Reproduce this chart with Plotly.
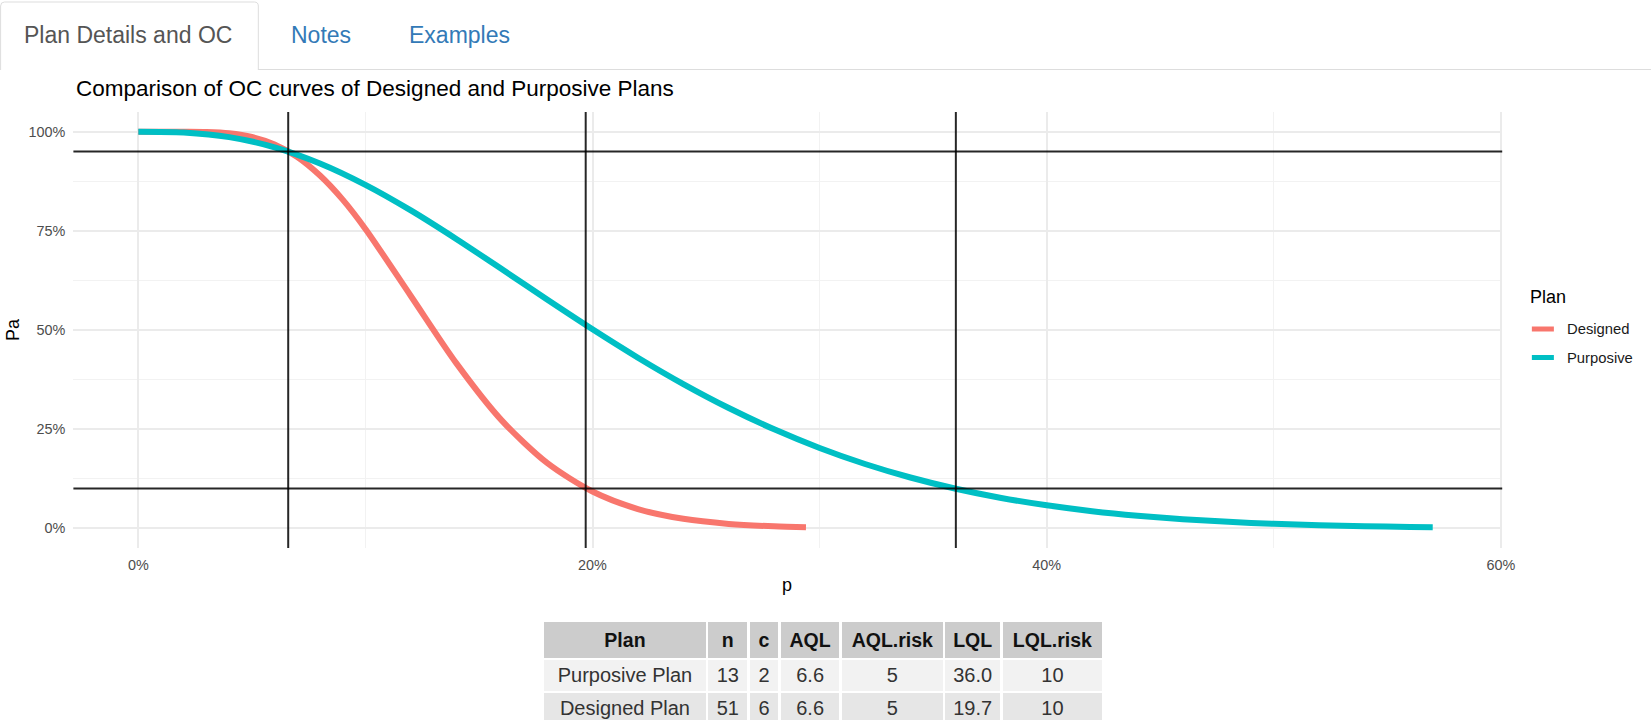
import plotly.graph_objects as go

# ---------------- data ----------------
designed_p = [0.00, 0.01, 0.02, 0.03, 0.04, 0.05, 0.06, 0.07, 0.08, 0.09, 0.10,
              0.12, 0.14, 0.16, 0.18, 0.20, 0.22, 0.24, 0.26, 0.28, 0.294]
designed_pa = [1.000, 1.000, 0.9999, 0.9993, 0.9960, 0.9868, 0.9681, 0.9363, 0.8895, 0.8287, 0.7548,
               0.5858, 0.4165, 0.2721, 0.1647, 0.0926, 0.0485, 0.0238, 0.0110, 0.0048, 0.0027]

purposive_p = [0.00, 0.02, 0.04, 0.06, 0.08, 0.10, 0.12, 0.14, 0.16, 0.18, 0.20,
               0.22, 0.24, 0.26, 0.28, 0.30, 0.32, 0.34, 0.36, 0.38, 0.40,
               0.42, 0.44, 0.46, 0.48, 0.50, 0.52, 0.54, 0.56, 0.57]
purposive_pa = [1.000, 0.998, 0.9864, 0.9608, 0.920, 0.8661, 0.8016, 0.7296, 0.6537, 0.5768, 0.5017,
                0.4301, 0.3636, 0.3032, 0.2495, 0.2025, 0.1621, 0.1280, 0.0997, 0.0765, 0.0579,
                0.0431, 0.0316, 0.0228, 0.0162, 0.0112, 0.0077, 0.0051, 0.0033, 0.0027]

table_plan = ["Purposive Plan", "Designed Plan"]
table_n = [13, 51]
table_c = [2, 6]
table_aql = [6.6, 6.6]
table_aql_risk = [5, 5]
table_lql = [36.0, 19.7]
table_lql_risk = [10, 10]
table_headers = ["Plan", "n", "c", "AQL", "AQL.risk", "LQL", "LQL.risk"]

x_ticks = [0, 0.2, 0.4, 0.6]
y_ticks = [0, 0.25, 0.5, 0.75, 1.0]

tabs = ["Plan Details and OC", "Notes", "Examples"]
title = "Comparison of OC curves of Designed and Purposive Plans"

# ---------------- layout helpers ----------------
REF_W, REF_H = 1651, 728          # reference picture size (positions are read in these pixels)
FIG_W, FIG_H = 1666, 728          # rendered canvas size
FONT = "Liberation Sans, Arial, sans-serif"


def px(x):
    return x / REF_W


def py(y):
    return 1 - y / REF_H


def clamp(v):
    return min(1.0, max(0.0, v))


RED = "#F8766D"
CYAN = "#00BFC4"

fig = go.Figure()

series = [("Designed", designed_p, designed_pa, RED),
          ("Purposive", purposive_p, purposive_pa, CYAN)]
for name, xs, ys, col in series:
    fig.add_trace(go.Scatter(x=xs, y=ys, mode="lines", name=name,
                             line=dict(color=col, width=6, shape="spline", smoothing=0.8),
                             showlegend=False, hoverinfo="skip"))

shapes = []
# reference lines (AQL / LQL and risks) from the table
for v in sorted(set(table_aql + table_lql)):
    shapes.append(dict(type="line", xref="x", yref="y domain", x0=v / 100, x1=v / 100, y0=0, y1=1,
                       line=dict(color="rgba(0,0,0,0.85)", width=2), layer="above"))
for v in sorted(set([1 - r / 100 for r in table_aql_risk] + [r / 100 for r in table_lql_risk])):
    shapes.append(dict(type="line", xref="x domain", yref="y", x0=0, x1=1, y0=v, y1=v,
                       line=dict(color="rgba(0,0,0,0.85)", width=2), layer="above"))

# tab strip (bootstrap nav-tabs look)
tab_path = (f"M {px(0.6)},{py(70)} L {px(0.6)},{py(6)} Q {px(0.6)},{py(2)} {px(4.5)},{py(2)} "
            f"L {px(254)},{py(2)} Q {px(258)},{py(2)} {px(258)},{py(6)} L {px(258)},{py(70)}")
shapes.append(dict(type="path", xref="paper", yref="paper", path=tab_path,
                   line=dict(color="#dddddd", width=1)))
shapes.append(dict(type="line", xref="paper", yref="paper", x0=px(258), x1=1, y0=py(69.5), y1=py(69.5),
                   line=dict(color="#dddddd", width=1)))

annotations = []
tab_centers = [128, 320.5, 459]
tab_colors = ["#555555", "#337ab7", "#337ab7"]
for t, cx, col in zip(tabs, tab_centers, tab_colors):
    annotations.append(dict(text=t, x=px(cx), y=py(35), xref="paper", yref="paper",
                            xanchor="center", yanchor="middle", showarrow=False,
                            font=dict(family=FONT, size=23, color=col)))

annotations.append(dict(text=title, x=px(74), y=py(88.5), xref="paper", yref="paper",
                        xanchor="left", yanchor="middle", showarrow=False,
                        font=dict(family=FONT, size=22.5, color="#000000")))

# axis titles
annotations.append(dict(text="p", x=px(786.5), y=py(585), xref="paper", yref="paper",
                        xanchor="center", yanchor="middle", showarrow=False,
                        font=dict(family=FONT, size=18, color="#000000")))
annotations.append(dict(text="Pa", x=px(13), y=py(330), xref="paper", yref="paper",
                        xanchor="center", yanchor="middle", showarrow=False, textangle=-90,
                        font=dict(family=FONT, size=18, color="#000000")))

# manual legend (ggplot style)
annotations.append(dict(text="Plan", x=px(1526), y=py(297), xref="paper", yref="paper",
                        xanchor="left", yanchor="middle", showarrow=False,
                        font=dict(family=FONT, size=18, color="#000000")))
for i, (name, _, _, col) in enumerate(series):
    yy = 329 + i * 28.5
    shapes.append(dict(type="line", xref="paper", yref="paper", x0=px(1530), x1=px(1552),
                       y0=py(yy), y1=py(yy), line=dict(color=col, width=5)))
    annotations.append(dict(text=name, x=px(1563), y=py(yy), xref="paper", yref="paper",
                            xanchor="left", yanchor="middle", showarrow=False,
                            font=dict(family=FONT, size=14.8, color="#1a1a1a")))

# summary table
cells_values = [table_plan, table_n, table_c,
                [f"{v:.1f}" for v in table_aql], table_aql_risk,
                [f"{v:.1f}" for v in table_lql], table_lql_risk]
row_fill = ["#f2f2f2", "#e6e6e6"]
fig.add_trace(go.Table(
    domain=dict(x=[clamp(px(542)), clamp(px(1103))], y=[clamp(py(720)), clamp(py(621))]),
    columnwidth=[164, 41, 31, 61, 103, 57, 102],
    header=dict(values=[f"<b>{h}</b>" for h in table_headers],
                fill_color="#cccccc", line=dict(color="white", width=2.5),
                align="center", height=32,
                font=dict(family=FONT, size=19.5, color="#111111")),
    cells=dict(values=cells_values,
               fill_color=[row_fill] * len(table_headers), line=dict(color="white", width=2.5),
               align="center", height=33,
               font=dict(family=FONT, size=20, color="#333333")),
))

fig.update_layout(
    width=FIG_W, height=FIG_H, margin=dict(l=0, r=0, t=0, b=0),
    paper_bgcolor="white", plot_bgcolor="white",
    font=dict(family=FONT),
    modebar=dict(bgcolor="rgba(0,0,0,0)", color="rgba(0,0,0,0)", activecolor="rgba(0,0,0,0)"),
    shapes=shapes, annotations=annotations, showlegend=False,
    xaxis=dict(domain=[px(73.3), px(1500.4)], range=[-0.0286, 0.6006],
               tickvals=x_ticks, tickformat=".0%", showline=False, zeroline=False,
               showgrid=True, gridcolor="#ebebeb", gridwidth=2, ticks="",
               ticklabelstandoff=6,
               tickfont=dict(family=FONT, size=14.4, color="#4d4d4d"),
               minor=dict(tickvals=[0.1, 0.3, 0.5], showgrid=True, gridcolor="#f2f2f2", gridwidth=1.2)),
    yaxis=dict(domain=[py(548.1), py(111.9)], range=[-0.05, 1.05],
               tickvals=y_ticks, tickformat=".0%", showline=False, zeroline=False,
               showgrid=True, gridcolor="#ebebeb", gridwidth=2, ticks="",
               ticklabelstandoff=7,
               tickfont=dict(family=FONT, size=14.4, color="#4d4d4d"),
               minor=dict(tickvals=[0.125, 0.375, 0.625, 0.875], showgrid=True,
                          gridcolor="#f2f2f2", gridwidth=1.2)),
)

fig.write_html("out.html",
               config={"displayModeBar": False},
               post_script="document.body.style.margin='0';")
